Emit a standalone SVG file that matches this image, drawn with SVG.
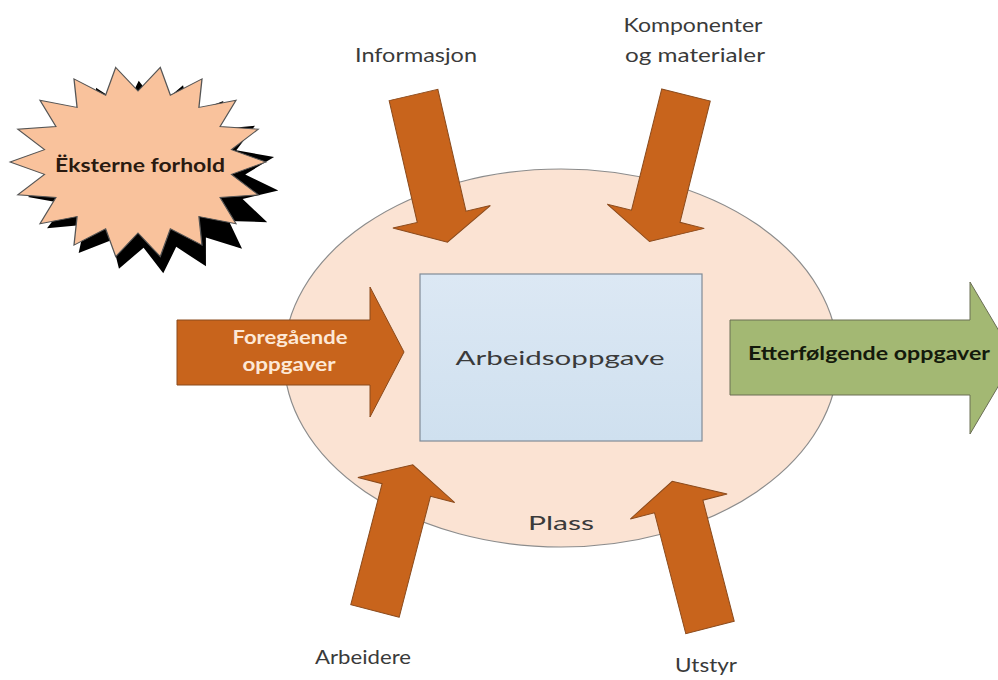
<svg xmlns="http://www.w3.org/2000/svg" width="998" height="680" viewBox="0 0 998 680">
<defs>
<style>
.lbl{font-family:Lato,"Open Sans","Liberation Sans",sans-serif;fill:#3a3a3a;font-size:19px;text-anchor:middle}
.bold{font-family:Lato,"Open Sans","Liberation Sans",sans-serif;font-weight:bold;font-size:19px;text-anchor:middle}
.arr{fill:#C8641C;stroke:#8a4a1c;stroke-width:1}
</style>
<linearGradient id="rg" x1="0" y1="0" x2="0" y2="1">
<stop offset="0" stop-color="#DCE8F4"/><stop offset="1" stop-color="#CFE0EF"/>
</linearGradient>
<polygon id="star" points="-17.4,-98.5 0,-74 17.4,-98.5 25.3,-69.6 50,-86.6 47.6,-56.8 76.6,-64.3 64.1,-37 94,-34.2 73,-12.9 100,0 73,12.9 94,34.2 64.1,37 76.6,64.3 47.6,56.8 50,86.6 25.3,69.6 17.4,98.5 0,74 -17.4,98.5 -25.3,69.6 -50,86.6 -47.6,56.8 -76.6,64.3 -64.1,37 -94,34.2 -73,12.9 -100,0 -73,-12.9 -94,-34.2 -64.1,-37 -76.6,-64.3 -47.6,-56.8 -50,-86.6 -25.3,-69.6"/>
<polygon id="darr" points="-25,0 25,0 25,125 50,125 0,151 -50,125 -25,125"/>
</defs>
<rect width="998" height="680" fill="#ffffff"/>

<g id="plass">
<ellipse cx="561" cy="358" rx="277" ry="189" fill="#FBE3D3" stroke="#8c8c8c" stroke-width="1.2"/>
<text class="lbl" x="561" y="530" font-size="24" textLength="66" lengthAdjust="spacingAndGlyphs" fill="#222">Plass</text>
</g>

<g id="arbeidsoppgave">
<rect x="420" y="274" width="282" height="167" fill="url(#rg)" stroke="#808b96" stroke-width="1.2"/>
<text class="lbl" x="560" y="365" font-size="27" fill="#1f2a36" textLength="209" lengthAdjust="spacingAndGlyphs">Arbeidsoppgave</text>
</g>

<g id="eksterne">
<use href="#star" transform="translate(151,177) rotate(6) scale(1.28,0.96)" fill="#000"/>
<use href="#star" transform="translate(138,162) scale(1.28,0.96)" fill="#F9C29C" stroke="#555" stroke-width="1" vector-effect="non-scaling-stroke"/>
<text class="bold" x="140" y="172" font-size="21" fill="#2a1a10" textLength="170" lengthAdjust="spacingAndGlyphs">Ëksterne forhold</text>
</g>

<g id="connectors">
<g id="informasjon">
<use href="#darr" class="arr" transform="translate(413.5,95) rotate(-13)"/>
<text class="lbl" x="416" y="62" textLength="122" lengthAdjust="spacingAndGlyphs">Informasjon</text>
</g>
<g id="komponenter">
<use href="#darr" class="arr" transform="translate(686,95) rotate(14)"/>
<text class="lbl" x="693" y="32" textLength="139" lengthAdjust="spacingAndGlyphs">Komponenter</text>
<text class="lbl" x="695" y="62" textLength="140" lengthAdjust="spacingAndGlyphs">og materialer</text>
</g>
<g id="arbeidere">
<use href="#darr" class="arr" transform="translate(375,611) rotate(194.5)"/>
<text class="lbl" x="363" y="664" textLength="96" lengthAdjust="spacingAndGlyphs">Arbeidere</text>
</g>
<g id="utstyr">
<use href="#darr" class="arr" transform="translate(710,627.5) rotate(165.5)"/>
<text class="lbl" x="706" y="672" textLength="62" lengthAdjust="spacingAndGlyphs">Utstyr</text>
</g>
<g id="foregaende">
<polygon class="arr" points="177,320 370,320 370,287 404,352 370,417 370,385 177,385"/>
<text class="bold" x="290" y="344" fill="#FDE8D6" textLength="115" lengthAdjust="spacingAndGlyphs">Foregående</text>
<text class="bold" x="289" y="371" fill="#FDE8D6" textLength="93" lengthAdjust="spacingAndGlyphs">oppgaver</text>
</g>
<g id="etterfolgende">
<polygon points="730,320 970,320 970,282 1015,358 970,434 970,395 730,395" fill="#A3B873" stroke="#6a6e55" stroke-width="1"/>
<text class="bold" x="869" y="360" fill="#141a0c" textLength="242" lengthAdjust="spacingAndGlyphs">Etterfølgende oppgaver</text>
</g>
</g>
</svg>
